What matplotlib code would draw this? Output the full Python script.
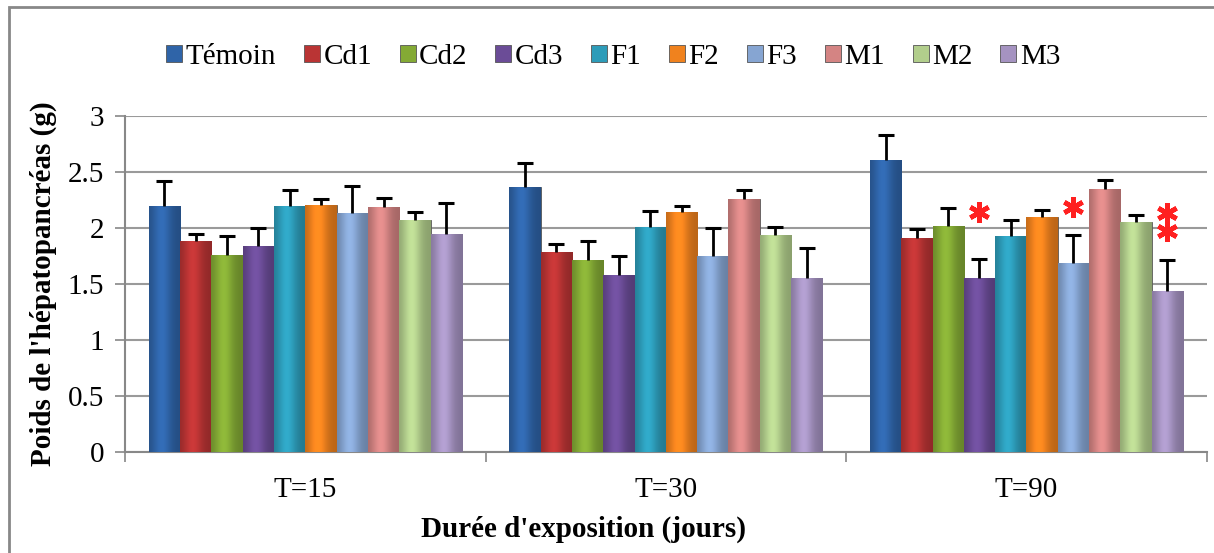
#!/usr/bin/env python
import numpy as np
import matplotlib
matplotlib.use('Agg')
import matplotlib.pyplot as plt
from matplotlib.colors import to_rgb
from matplotlib.patches import Rectangle

plt.rcParams['font.family'] = ['Liberation Serif', 'DejaVu Serif']

# data
periods = ['T=15', 'T=30', 'T=90']
groups = ['Témoin', 'Cd1', 'Cd2', 'Cd3', 'F1', 'F2', 'F3', 'M1', 'M2', 'M3']

means = {
    'Témoin': [2.20, 2.37, 2.61],
    'Cd1':    [1.88, 1.79, 1.91],
    'Cd2':    [1.76, 1.71, 2.02],
    'Cd3':    [1.84, 1.58, 1.55],
    'F1':     [2.20, 2.01, 1.93],
    'F2':     [2.21, 2.14, 2.10],
    'F3':     [2.13, 1.75, 1.69],
    'M1':     [2.19, 2.26, 2.35],
    'M2':     [2.07, 1.94, 2.05],
    'M3':     [1.95, 1.55, 1.44],
}
errors = {
    'Témoin': [0.22, 0.21, 0.22],
    'Cd1':    [0.07, 0.07, 0.08],
    'Cd2':    [0.17, 0.17, 0.16],
    'Cd3':    [0.16, 0.17, 0.17],
    'F1':     [0.14, 0.14, 0.14],
    'F2':     [0.05, 0.06, 0.06],
    'F3':     [0.25, 0.25, 0.25],
    'M1':     [0.08, 0.08, 0.08],
    'M2':     [0.07, 0.07, 0.07],
    'M3':     [0.27, 0.27, 0.27],
}

colors = ['#2F64A8', '#BA3434', '#84AA35', '#6B4C97', '#2D9CB9',
          '#F0821E', '#86A5D2', '#D48483', '#B2CE8C', '#A593C1']

# significance stars (group, period index, y)
star_groups = ['Cd3', 'F3', 'M3', 'M3']
star_period = [2, 2, 2, 2]
star_y = [2.14, 2.19, 2.13, 1.97]


def shade(ax, patch, color):
    # glossy look: darker edges, lighter band left of centre
    u = np.linspace(0, 1, 40)
    prof = 0.78 + 0.32 * np.exp(-((u - 0.4) / 0.3) ** 2)
    rgb = np.clip(np.array(to_rgb(color))[None, :] * prof[:, None], 0, 1)
    img = rgb[None, :, :]
    x0, y0 = patch.get_x(), patch.get_y()
    im = ax.imshow(img, extent=[x0, x0 + patch.get_width(), y0, y0 + patch.get_height()],
                   aspect='auto', zorder=3, interpolation='bilinear')
    im.set_clip_path(patch)


def main():
    fig = plt.figure(figsize=(12.14, 5.53), dpi=100)
    ax = fig.add_axes([0.103, 0.183, 0.891, 0.607])

    x = np.arange(len(periods))
    w = 0.0868
    for i, g in enumerate(groups):
        pos = x + (i - 4.5) * w
        bars = ax.bar(pos, means[g], w, color=colors[i], edgecolor='#555555',
                      linewidth=0.6, label=g, zorder=3)
        for b in bars:
            shade(ax, b, colors[i])
        tops = np.array(means[g]) + np.array(errors[g])
        ax.vlines(pos, means[g], tops, color='black', linewidth=2, zorder=4)
        ax.plot(pos, tops, linestyle='none', marker='_', markersize=12,
                mew=2.2, color='black', zorder=4)

    for g, p, yv in zip(star_groups, star_period, star_y):
        xs = x[p] + (groups.index(g) - 4.5) * w
        ax.plot(xs, yv, marker=(6, 2, 0), color='#FF2020', markersize=15,
                mew=3.4, zorder=5)

    ax.set_xlim(-0.5, 2.5)
    ax.set_ylim(0, 3)
    ax.set_yticks(np.arange(0, 3.01, 0.5))
    ax.set_yticklabels(['0', '0.5', '1', '1.5', '2', '2.5', '3'])
    ax.yaxis.grid(True, color='#9a9a9a', linewidth=1.5, zorder=0)
    ax.set_axisbelow(True)

    ax.set_xticks(x)
    ax.set_xticklabels(periods)
    ax.set_xticks([-0.5, 0.5, 1.5, 2.5], minor=True)
    ax.tick_params(axis='x', which='major', length=0, labelsize=21, pad=18)
    ax.tick_params(axis='x', which='minor', length=7, color='#888888', width=1.2)
    ax.tick_params(axis='y', length=7, color='#888888', width=1.2, labelsize=21, pad=8)

    for s in ['top', 'right']:
        ax.spines[s].set_visible(False)
    for s in ['left', 'bottom']:
        ax.spines[s].set_color('#888888')
        ax.spines[s].set_linewidth(1.5)

    ax.set_ylabel("Poids de l'hépatopancréas (g)", fontsize=21, fontweight='bold', labelpad=8)
    ax.set_xlabel("Durée d'exposition (jours)", fontsize=21, fontweight='bold', labelpad=10)
    # the title sits left of the axis centre in the original
    ax.xaxis.set_label_coords(0.424, -0.19)

    fig.legend(loc='center', bbox_to_anchor=(0.505, 1 - 57 / 553), ncol=10,
               frameon=False, fontsize=21, handlelength=0.55, handleheight=0.55,
               handletextpad=0.12, columnspacing=0.95)

    # outer chart border
    fig.patches.append(Rectangle((9 / 1214, -0.01), 1.1, 1 - 7 / 553 + 0.01,
                                 transform=fig.transFigure, fill=False,
                                 edgecolor='#888888', linewidth=2))

    fig.savefig('out.png', dpi=100)


if __name__ == "__main__":
    main()
